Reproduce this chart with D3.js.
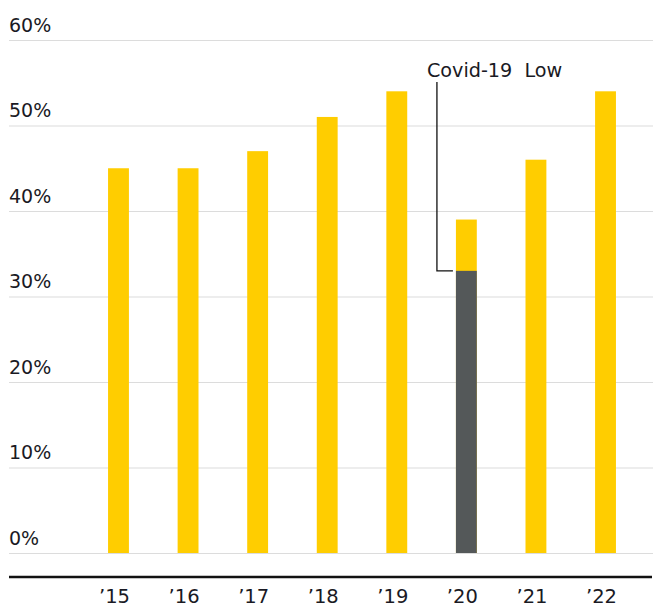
<!DOCTYPE html>
<html>
<head>
    <meta charset="utf-8">
    <title>Share by year</title>
    <script src="https://d3js.org/d3.v7.min.js"></script>
    <style>
    body { margin: 0; background: #fff; }
    svg text {
        font-family: "DejaVu Sans", sans-serif;
        fill: #1a1a24;
    }
    </style>
</head>
<body>
<script>
// values (share, 0..1)
var years = ["’15", "’16", "’17", "’18", "’19", "’20", "’21", "’22"];
var totals = [0.45, 0.45, 0.47, 0.51, 0.54, 0.39, 0.46, 0.54];
var lows = [0, 0, 0, 0, 0, 0.33, 0, 0];   // dark part (Covid-19 low)
var yTicks = [0, 0.1, 0.2, 0.3, 0.4, 0.5, 0.6];
var noteText = "Covid-19\u00a0 Low";
var noteYear = "’20";

var width = 653, height = 608;

var svg = d3.select("body").append("svg")
    .attr("width", width)
    .attr("height", height);

var x = d3.scaleBand()
    .domain(years)
    .range([83.7, 640.3])
    .paddingInner(0.7)
    .paddingOuter(0.35);

var y = d3.scaleLinear()
    .domain([0, 0.6])
    .range([553, 40]);

// gridlines + labels
var yAxis = svg.append("g")
    .attr("transform", "translate(9,0)")
    .call(d3.axisRight(y)
        .tickValues(yTicks)
        .tickSize(width - 9)
        .tickFormat(d3.format(".0%")));
yAxis.select(".domain").remove();
yAxis.selectAll("line").attr("stroke", "#dcdcdc").attr("stroke-width", 1.2);
yAxis.selectAll("text")
    .attr("x", 0)
    .attr("dy", -9)
    .attr("text-anchor", "start")
    .style("font-size", "19px");

// bars
var rows = years.map(function(d, i) {
    return { year: d, total: totals[i], low: lows[i] };
});

svg.selectAll(".bar")
    .data(rows)
    .enter().append("rect")
    .attr("class", "bar")
    .attr("x", function(d) { return x(d.year); })
    .attr("width", x.bandwidth())
    .attr("y", function(d) { return y(d.total); })
    .attr("height", function(d) { return y(0) - y(d.total); })
    .attr("fill", "#ffcd00");

svg.selectAll(".low")
    .data(rows.filter(function(d) { return d.low > 0; }))
    .enter().append("rect")
    .attr("class", "low")
    .attr("x", function(d) { return x(d.year); })
    .attr("width", x.bandwidth())
    .attr("y", function(d) { return y(d.low); })
    .attr("height", function(d) { return y(0) - y(d.low); })
    .attr("fill", "#545859");

// baseline + x labels
var xAxis = svg.append("g")
    .attr("transform", "translate(0,577)")
    .call(d3.axisBottom(x).tickSize(0));
xAxis.select(".domain").remove();
xAxis.append("line")
    .attr("x1", 9).attr("x2", width - 1)
    .attr("stroke", "#111").attr("stroke-width", 2.5);
xAxis.selectAll("text")
    .attr("y", 26)
    .attr("dy", 0)
    .attr("dx", -4)
    .style("font-size", "19.5px");

// annotation
var lowVal = lows[years.indexOf(noteYear)];
var lx = x(noteYear) - 19;
svg.append("path")
    .attr("d", "M" + lx + ",82V" + y(lowVal) + "H" + (x(noteYear) - 3))
    .attr("fill", "none")
    .attr("stroke", "#111")
    .attr("stroke-width", 1.3);
svg.append("text")
    .attr("x", lx - 10)
    .attr("y", 77)
    .style("font-size", "19.2px")
    .text(noteText);
</script>
</body>
</html>
